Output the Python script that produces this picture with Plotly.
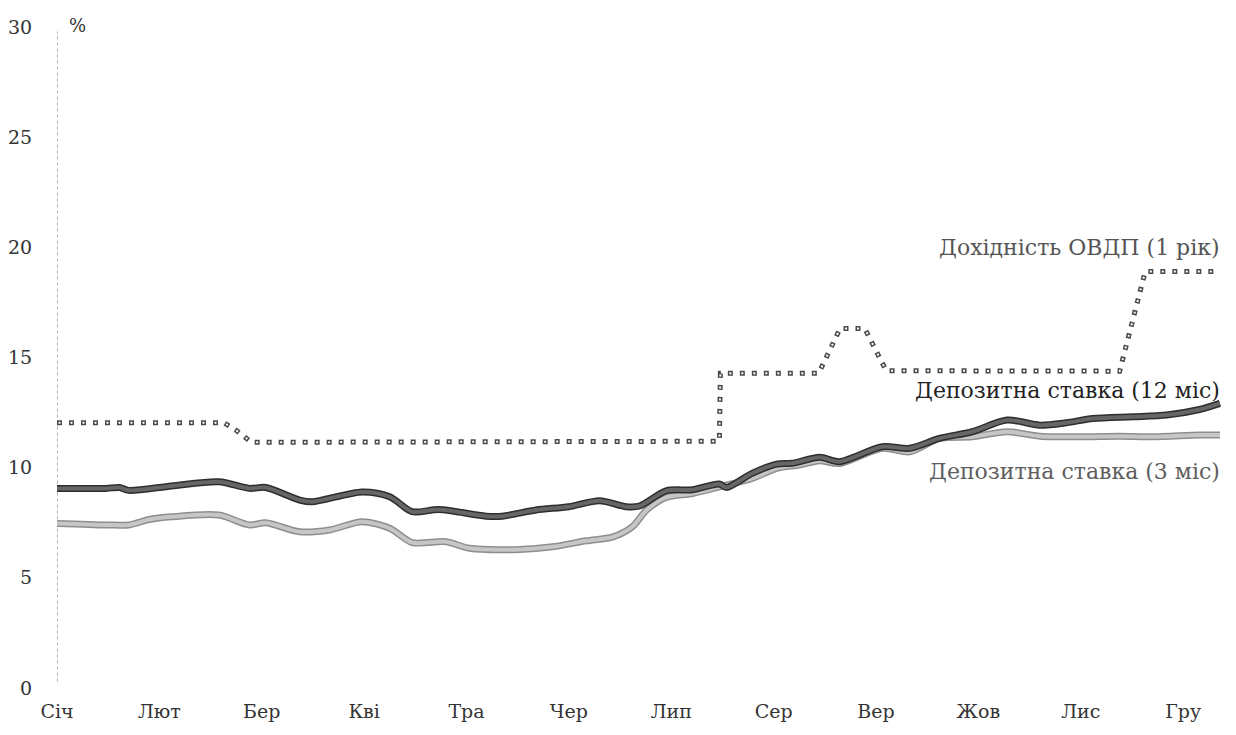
import plotly.graph_objects as go

# Month tick labels (positions are month index 0..11)
months = ["Січ", "Лют", "Бер", "Кві", "Тра", "Чер", "Лип", "Сер", "Вер", "Жов", "Лис", "Гру"]
month_pos = list(range(12))

# Deposit rate, 12 months (x = fractional month index, y = %)
dep12_x = [0.00, 0.48, 0.61, 0.70, 1.12, 1.58, 1.88, 2.04, 2.37, 2.49, 2.98, 3.25, 3.47, 3.73,
           4.19, 4.35, 4.68, 5.00, 5.30, 5.56, 5.69, 5.95, 6.21, 6.47, 6.54, 6.79, 7.03, 7.18,
           7.45, 7.64, 8.06, 8.33, 8.62, 8.94, 9.28, 9.60, 9.86, 10.12, 10.51, 10.84, 11.16, 11.36]
dep12_y = [9.06, 9.06, 9.10, 8.97, 9.17, 9.36, 9.06, 9.10, 8.53, 8.45, 8.90, 8.68, 8.00, 8.10,
           7.80, 7.80, 8.08, 8.23, 8.50, 8.23, 8.26, 8.95, 9.00, 9.26, 9.10, 9.74, 10.16, 10.20,
           10.47, 10.27, 10.95, 10.88, 11.33, 11.63, 12.16, 11.93, 12.04, 12.23, 12.31, 12.39, 12.64, 12.92]

# Deposit rate, 3 months
dep3_x = [0.00, 0.48, 0.70, 0.90, 1.12, 1.58, 1.88, 2.04, 2.37, 2.66, 2.98, 3.25, 3.47, 3.80,
          4.03, 4.52, 4.84, 5.17, 5.43, 5.62, 5.76, 5.95, 6.21, 6.47, 6.79, 7.03, 7.25, 7.45,
          7.64, 8.06, 8.33, 8.62, 8.94, 9.28, 9.60, 9.99, 10.38, 10.70, 11.16, 11.36]
dep3_y = [7.47, 7.40, 7.40, 7.65, 7.77, 7.85, 7.40, 7.50, 7.09, 7.17, 7.55, 7.25, 6.60, 6.64,
          6.34, 6.29, 6.41, 6.68, 6.86, 7.32, 8.08, 8.65, 8.83, 9.13, 9.51, 9.97, 10.12, 10.31,
          10.19, 10.88, 10.72, 11.33, 11.40, 11.63, 11.43, 11.40, 11.43, 11.40, 11.48, 11.48]

# Government bond (OVDP, 1 year) yield
ovdp_x = [0.00, 1.63, 1.75, 1.90, 6.47, 6.48, 7.44, 7.65, 7.89, 8.10, 10.38, 10.63, 11.36]
ovdp_y = [12.04, 12.04, 11.70, 11.15, 11.20, 14.28, 14.28, 16.32, 16.32, 14.40, 14.38, 18.90, 18.90]

y_ticks = [0, 5, 10, 15, 20, 25, 30]

label_ovdp = "Дохідність ОВДП (1 рік)"
label_12 = "Депозитна ставка (12 міс)"
label_3 = "Депозитна ставка (3 міс)"

FONT = "DejaVu Serif"

fig = go.Figure()

# 3-month deposit rate (light gray with darker edge)
fig.add_trace(go.Scatter(x=dep3_x, y=dep3_y, mode="lines",
                         line=dict(color="#8e8e8e", width=7, shape="spline", smoothing=0.8),
                         hoverinfo="skip", showlegend=False))
fig.add_trace(go.Scatter(x=dep3_x, y=dep3_y, mode="lines", name=label_3,
                         line=dict(color="#c6c6c6", width=4, shape="spline", smoothing=0.8),
                         showlegend=False))

# 12-month deposit rate (dark gray with darker edge)
fig.add_trace(go.Scatter(x=dep12_x, y=dep12_y, mode="lines",
                         line=dict(color="#2e2e2e", width=7, shape="spline", smoothing=0.8),
                         hoverinfo="skip", showlegend=False))
fig.add_trace(go.Scatter(x=dep12_x, y=dep12_y, mode="lines", name=label_12,
                         line=dict(color="#666666", width=4, shape="spline", smoothing=0.8),
                         showlegend=False))

# OVDP yield: small hollow dots along the path
fig.add_trace(go.Scatter(x=ovdp_x, y=ovdp_y, mode="lines", name=label_ovdp,
                         line=dict(color="#4a4a4a", width=5, dash="5px,7px"),
                         showlegend=False))
fig.add_trace(go.Scatter(x=ovdp_x, y=ovdp_y, mode="lines",
                         line=dict(color="#ffffff", width=2, dash="0px,1.5px,2px,8.5px"),
                         hoverinfo="skip", showlegend=False))

# Dotted y axis line
fig.add_shape(type="line", xref="x", yref="y", x0=0, x1=0, y0=0.3, y1=29.8,
              line=dict(color="#9a9a9a", width=1.5, dash="dot"), layer="below")

annos = [
    dict(text=label_ovdp, x=1.0, xref="paper", y=20.0, yref="y", color="#555555"),
    dict(text=label_12, x=1.0, xref="paper", y=13.52, yref="y", color="#222222"),
    dict(text=label_3, x=1.0, xref="paper", y=9.81, yref="y", color="#5e5e5e"),
]
for a in annos:
    fig.add_annotation(text=a["text"], x=a["x"], xref=a["xref"], y=a["y"], yref=a["yref"],
                       xanchor="right", yanchor="middle", showarrow=False,
                       font=dict(family=FONT, size=22, color=a["color"]))

# Unit label at the top of the y axis
fig.add_annotation(text="%", x=0.018, xref="paper", y=1.003, yref="paper", xanchor="center",
                   yanchor="middle", showarrow=False,
                   font=dict(family=FONT, size=18, color="#333333"))

# The page body adds an 8px margin, so the figure is sized to fit inside the window.
fig.update_layout(
    width=1220, height=719,
    margin=dict(l=49, r=6, t=19, b=39),
    paper_bgcolor="white", plot_bgcolor="white",
    font=dict(family=FONT, size=18, color="#333333"),
    xaxis=dict(range=[0, 11.38], tickvals=month_pos, ticktext=months, showgrid=False,
               zeroline=False, showline=False, ticks="outside", ticklen=6, automargin=False,
               tickcolor="rgba(0,0,0,0)", tickfont=dict(family=FONT, size=19, color="#333333")),
    yaxis=dict(range=[0, 30], tickvals=y_ticks, ticktext=[str(v) for v in y_ticks],
               showgrid=False, zeroline=False, showline=False, ticks="outside", ticklen=20,
               automargin=False,
               tickcolor="rgba(0,0,0,0)", tickfont=dict(family=FONT, size=19, color="#333333")),
)

fig.write_html("out.html")
